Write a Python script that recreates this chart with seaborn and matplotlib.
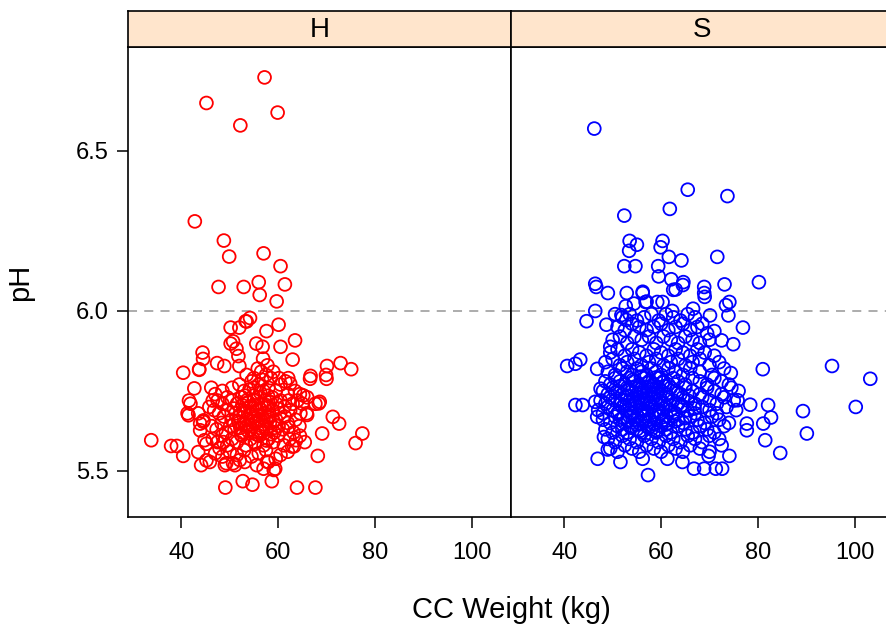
import matplotlib
matplotlib.use("Agg")
import matplotlib.pyplot as plt
import seaborn as sns
import pandas as pd

# ---------------- data ----------------
panels = ["H", "S"]
x_ticks = [40, 60, 80, 100]
y_ticks = [5.5, 6.0, 6.5]
ref_ph = 6.0

h_outer = [
    (57.2, 6.73), (45.2, 6.65), (59.9, 6.62), (52.2, 6.58), (42.8, 6.28), (48.8, 6.22),
    (49.9, 6.17), (57.0, 6.18), (60.5, 6.14), (47.7, 6.075), (52.9, 6.075), (56.0, 6.09),
    (61.4, 6.083), (56.2, 6.05), (59.7, 6.03), (54.2, 5.978), (53.3, 5.968), (52.0, 5.948),
    (50.2, 5.948), (60.1, 5.957), (57.6, 5.937), (50.2, 5.898), (50.7, 5.905), (51.4, 5.882),
    (51.8, 5.859), (52.0, 5.828), (55.5, 5.898), (56.8, 5.888), (60.5, 5.888), (63.5, 5.908),
    (56.9, 5.851), (63.0, 5.848), (44.4, 5.87), (44.5, 5.85), (43.7, 5.818), (40.4, 5.807),
    (47.4, 5.837), (48.9, 5.828), (70.1, 5.828), (72.9, 5.837), (75.1, 5.818), (66.7, 5.797),
    (66.6, 5.788), (69.9, 5.80), (70.0, 5.788), (42.7, 5.758), (46.2, 5.76), (41.6, 5.72),
    (41.9, 5.71), (41.3, 5.68), (41.5, 5.674), (33.8, 5.596), (37.9, 5.578), (39.1, 5.578),
    (40.4, 5.547), (71.3, 5.669), (72.6, 5.648), (69.1, 5.617), (77.4, 5.617), (76.0, 5.587),
    (68.2, 5.547), (68.6, 5.716), (67.7, 5.71), (65.9, 5.68), (65.2, 5.736), (62.1, 5.79),
    (62.5, 5.773), (63.7, 5.596), (63.3, 5.577), (49.1, 5.448), (52.7, 5.468), (54.7, 5.457),
    (58.7, 5.468), (63.9, 5.448), (67.7, 5.448), (44.1, 5.518), (45.2, 5.533), (45.9, 5.528),
    (49.0, 5.518), (51.1, 5.518), (53.1, 5.528), (55.6, 5.518), (57.0, 5.507), (59.4, 5.507),
    (59.5, 5.538), (58.0, 5.528), (43.5, 5.559), (45.2, 5.585), (44.8, 5.596), (43.9, 5.648),
    (43.9, 5.627), (44.6, 5.658), (43.5, 5.68), (44.5, 5.654), (48.7, 5.59), (47.9, 5.571),
    (49.3, 5.524), (50.7, 5.524), (52.1, 5.534), (57.7, 5.529), (59.1, 5.503), (62.9, 5.576),
    (62.2, 5.638), (66.0, 5.675), (68.4, 5.711), (43.7, 5.816), (53.5, 5.967),
]

h_core = [
    (53.5, 5.80), (55.0, 5.79), (56.5, 5.81), (57.5, 5.80), (58.5, 5.79), (55.8, 5.82),
    (57.8, 5.83), (59.0, 5.81), (54.5, 5.78), (61.5, 5.78), (60.2, 5.79),
    (50.5, 5.76), (52.0, 5.77), (53.0, 5.75), (55.0, 5.76), (56.0, 5.77), (57.0, 5.75),
    (58.0, 5.76), (59.5, 5.75), (60.5, 5.77), (62.0, 5.74), (63.5, 5.75), (64.5, 5.74),
    (48.5, 5.75), (47.0, 5.74), (46.5, 5.72),
    (47.5, 5.72), (48.5, 5.71), (49.5, 5.73), (50.5, 5.72), (51.5, 5.71), (52.5, 5.73),
    (53.5, 5.72), (54.2, 5.70), (55.0, 5.72), (55.8, 5.73), (56.5, 5.71), (57.3, 5.72),
    (58.0, 5.70), (58.8, 5.73), (59.6, 5.71), (60.5, 5.72), (61.3, 5.70), (62.2, 5.72),
    (63.0, 5.71), (64.0, 5.72), (65.0, 5.71), (66.0, 5.73), (45.8, 5.70), (46.8, 5.69),
    (47.8, 5.68), (48.8, 5.67), (49.6, 5.69), (50.4, 5.66), (51.2, 5.68), (52.0, 5.67),
    (52.8, 5.69), (53.5, 5.66), (54.2, 5.68), (55.0, 5.67), (55.7, 5.69), (56.4, 5.66),
    (57.2, 5.68), (58.0, 5.67), (58.8, 5.69), (59.6, 5.66), (60.4, 5.68), (61.4, 5.67),
    (62.5, 5.69), (63.6, 5.66), (64.6, 5.68), (53.0, 5.685), (54.8, 5.655), (56.0, 5.675),
    (57.6, 5.655),
    (46.3, 5.64), (47.3, 5.63), (48.3, 5.65), (49.2, 5.62), (50.1, 5.64), (51.0, 5.63),
    (51.9, 5.65), (52.7, 5.62), (53.5, 5.64), (54.3, 5.63), (55.1, 5.65), (55.9, 5.62),
    (56.7, 5.64), (57.5, 5.63), (58.3, 5.65), (59.2, 5.62), (60.1, 5.64), (61.0, 5.63),
    (62.0, 5.65), (63.2, 5.62), (64.4, 5.64), (54.0, 5.645), (56.2, 5.635), (52.2, 5.635),
    (46.5, 5.60), (47.5, 5.59), (48.5, 5.61), (49.5, 5.58), (50.5, 5.60), (51.5, 5.59),
    (52.5, 5.61), (53.4, 5.58), (54.3, 5.60), (55.2, 5.59), (56.1, 5.61), (57.0, 5.58),
    (58.0, 5.60), (59.0, 5.59), (60.0, 5.61), (61.2, 5.58), (62.4, 5.60), (64.5, 5.61),
    (65.5, 5.59),
    (47.0, 5.555), (48.5, 5.545), (50.0, 5.56), (51.5, 5.55), (53.0, 5.565), (54.5, 5.545),
    (56.0, 5.555), (57.5, 5.565), (60.5, 5.55), (62.0, 5.56),
]

h_dense = [
    (52.6, 5.705), (53.9, 5.715), (54.7, 5.695), (55.4, 5.705), (56.2, 5.695), (57.7, 5.705),
    (58.4, 5.715), (51.8, 5.655), (53.1, 5.645), (54.6, 5.675), (55.5, 5.655), (56.9, 5.665),
    (58.3, 5.675), (59.1, 5.655), (52.3, 5.615), (53.8, 5.625), (55.4, 5.615), (56.9, 5.625),
    (58.6, 5.615), (54.9, 5.735), (56.3, 5.745), (57.9, 5.735), (53.2, 5.735), (55.3, 5.585),
    (57.6, 5.595), (54.1, 5.755), (56.7, 5.785), (59.9, 5.695), (50.9, 5.695), (59.3, 5.635),
]

s_outer = [
    (46.2, 6.57), (65.5, 6.379), (73.7, 6.359), (61.8, 6.319), (52.4, 6.298), (53.5, 6.219),
    (55.0, 6.207), (53.4, 6.188), (60.3, 6.219), (59.9, 6.199), (61.6, 6.169), (64.2, 6.158),
    (71.6, 6.169), (52.4, 6.14), (54.7, 6.14), (59.4, 6.14), (59.5, 6.108), (62.1, 6.099),
    (64.6, 6.09), (68.9, 6.075), (73.1, 6.083), (80.2, 6.09), (46.4, 6.085), (46.6, 6.075),
    (49.0, 6.056), (52.9, 6.056), (56.2, 6.056), (63.0, 6.067), (68.9, 6.056), (69.0, 6.044),
    (62.5, 6.066), (64.5, 6.081), (56.2, 6.06), (52.7, 6.015), (54.4, 6.023), (56.8, 6.028),
    (59.2, 6.028), (60.3, 6.028), (57.0, 6.029), (66.6, 6.007), (62.3, 6.0), (74.1, 6.028),
    (73.4, 6.018), (73.9, 5.986), (70.1, 5.986), (46.4, 6.0), (44.6, 5.968), (48.7, 5.957),
    (51.8, 5.987), (52.8, 5.972), (76.9, 5.948), (71.0, 5.937), (72.5, 5.908), (74.9, 5.896),
    (49.5, 5.888), (40.6, 5.828), (42.3, 5.835), (43.3, 5.848), (46.8, 5.819), (42.3, 5.706),
    (43.8, 5.706), (81.0, 5.818), (95.3, 5.828), (103.2, 5.788), (100.2, 5.70), (89.3, 5.687),
    (90.1, 5.617), (84.6, 5.556), (82.1, 5.706), (82.7, 5.667), (81.1, 5.648), (81.5, 5.596),
    (78.4, 5.707), (77.7, 5.648), (77.7, 5.627), (75.8, 5.721), (74.4, 5.806), (57.3, 5.487),
    (66.8, 5.507), (68.9, 5.507), (71.3, 5.507), (72.6, 5.507), (46.9, 5.538), (51.6, 5.528),
    (56.2, 5.538), (61.3, 5.538), (64.4, 5.528), (74.1, 5.547), (69.8, 5.547), (49.0, 5.567),
    (48.2, 5.606), (46.8, 5.669), (46.4, 5.716), (47.5, 5.757),
]

s_upper = [
    (50.5, 5.99), (52.0, 5.98), (53.5, 5.99), (55.0, 5.97), (56.5, 5.98), (58.0, 5.99),
    (59.5, 5.97), (61.0, 5.99), (62.5, 5.98), (64.0, 5.97), (65.5, 5.99), (67.0, 5.98),
    (68.5, 5.96),
    (51.0, 5.95), (52.5, 5.94), (54.0, 5.96), (55.5, 5.95), (57.0, 5.94), (58.5, 5.95),
    (60.0, 5.96), (61.5, 5.94), (63.0, 5.95), (64.5, 5.96), (66.0, 5.94), (67.5, 5.95),
    (69.5, 5.93),
    (50.0, 5.91), (51.5, 5.92), (53.0, 5.90), (54.5, 5.92), (56.0, 5.91), (57.5, 5.92),
    (59.0, 5.90), (60.5, 5.92), (62.0, 5.91), (63.5, 5.90), (65.0, 5.92), (66.5, 5.91),
    (68.0, 5.90), (70.0, 5.91),
    (49.5, 5.87), (51.0, 5.88), (52.5, 5.86), (54.0, 5.88), (55.5, 5.87), (57.0, 5.86),
    (58.5, 5.88), (60.0, 5.87), (61.5, 5.86), (63.0, 5.88), (64.5, 5.87), (66.0, 5.86),
    (67.5, 5.88), (69.0, 5.87), (71.0, 5.86),
    (48.5, 5.84), (50.0, 5.85), (51.5, 5.83), (53.0, 5.84), (54.5, 5.85), (56.0, 5.83),
    (57.5, 5.84), (59.0, 5.85), (60.5, 5.83), (62.0, 5.84), (63.5, 5.85), (65.0, 5.83),
    (66.5, 5.84), (68.0, 5.85), (70.0, 5.83), (72.0, 5.84),
]

s_core = [
    (49.0, 5.81), (50.5, 5.80), (52.0, 5.82), (53.0, 5.81), (54.0, 5.80), (55.0, 5.82),
    (56.0, 5.81), (57.0, 5.80), (58.0, 5.82), (59.0, 5.81), (60.0, 5.80), (61.5, 5.82),
    (63.0, 5.81), (64.5, 5.80), (66.0, 5.82), (68.0, 5.81), (70.5, 5.80), (73.0, 5.82),
    (48.5, 5.78), (49.5, 5.77), (50.5, 5.79), (51.5, 5.78), (52.5, 5.77), (53.5, 5.79),
    (54.5, 5.78), (55.5, 5.77), (56.5, 5.79), (57.5, 5.78), (58.5, 5.77), (59.5, 5.79),
    (60.5, 5.78), (61.5, 5.77), (62.5, 5.79), (63.5, 5.78), (65.0, 5.77), (66.5, 5.79),
    (68.0, 5.78), (69.5, 5.77), (71.0, 5.79), (72.5, 5.78), (74.0, 5.77),
    (48.0, 5.75), (49.0, 5.74), (50.0, 5.76), (51.0, 5.75), (52.0, 5.74), (53.0, 5.76),
    (54.0, 5.75), (55.0, 5.74), (56.0, 5.76), (57.0, 5.75), (58.0, 5.74), (59.0, 5.76),
    (60.0, 5.75), (61.0, 5.74), (62.0, 5.76), (63.0, 5.75), (64.0, 5.74), (65.0, 5.76),
    (66.5, 5.75), (68.0, 5.74), (69.5, 5.76), (71.0, 5.75), (72.5, 5.74), (74.5, 5.76),
    (76.0, 5.75),
    (47.5, 5.72), (48.5, 5.71), (49.5, 5.73), (50.5, 5.72), (51.5, 5.71), (52.5, 5.73),
    (53.5, 5.72), (54.5, 5.71), (55.5, 5.73), (56.5, 5.72), (57.5, 5.71), (58.5, 5.73),
    (59.5, 5.72), (60.5, 5.71), (61.5, 5.73), (62.5, 5.72), (63.5, 5.71), (64.5, 5.73),
    (65.5, 5.72), (67.0, 5.71), (68.5, 5.73), (70.0, 5.72), (71.5, 5.71), (73.0, 5.73),
    (75.0, 5.72),
    (47.0, 5.69), (48.0, 5.68), (49.0, 5.70), (50.0, 5.69), (51.0, 5.68), (52.0, 5.70),
    (53.0, 5.69), (54.0, 5.68), (55.0, 5.70), (56.0, 5.69), (57.0, 5.68), (58.0, 5.70),
    (59.0, 5.69), (60.0, 5.68), (61.0, 5.70), (62.0, 5.69), (63.0, 5.68), (64.0, 5.70),
    (65.5, 5.69), (67.0, 5.68), (68.5, 5.70), (70.0, 5.69), (71.5, 5.68), (73.5, 5.70),
    (75.5, 5.69),
    (48.0, 5.66), (49.5, 5.65), (50.5, 5.67), (51.5, 5.66), (52.5, 5.65), (53.5, 5.67),
    (54.5, 5.66), (55.5, 5.65), (56.5, 5.67), (57.5, 5.66), (58.5, 5.65), (59.5, 5.67),
    (60.5, 5.66), (61.5, 5.65), (62.5, 5.67), (63.5, 5.66), (64.5, 5.65), (66.0, 5.67),
    (67.5, 5.66), (69.0, 5.65), (70.5, 5.67), (72.0, 5.66), (74.0, 5.65),
    (48.5, 5.63), (50.0, 5.62), (51.0, 5.64), (52.0, 5.63), (53.0, 5.62), (54.0, 5.64),
    (55.0, 5.63), (56.0, 5.62), (57.0, 5.64), (58.0, 5.63), (59.0, 5.62), (60.0, 5.64),
    (61.0, 5.63), (62.0, 5.62), (63.5, 5.64), (65.0, 5.63), (66.5, 5.62), (68.0, 5.64),
    (69.5, 5.63), (71.0, 5.62), (73.0, 5.64),
    (49.0, 5.60), (50.5, 5.59), (52.0, 5.61), (53.5, 5.60), (55.0, 5.59), (56.5, 5.61),
    (58.0, 5.60), (59.5, 5.59), (61.0, 5.61), (62.5, 5.60), (64.0, 5.59), (65.5, 5.61),
    (67.0, 5.60), (68.5, 5.59), (70.0, 5.61), (72.0, 5.60),
    (49.5, 5.57), (51.0, 5.56), (52.5, 5.58), (54.0, 5.57), (55.5, 5.56), (57.0, 5.58),
    (58.5, 5.57), (60.0, 5.56), (61.5, 5.58), (63.0, 5.57), (64.5, 5.56), (66.0, 5.58),
    (68.0, 5.57), (70.0, 5.56), (72.5, 5.58),
    (51.5, 5.765), (53.2, 5.755), (54.8, 5.765), (56.3, 5.745), (57.8, 5.765), (59.3, 5.745),
    (60.8, 5.765), (52.4, 5.705), (54.0, 5.695), (55.6, 5.715), (57.2, 5.695), (58.8, 5.715),
    (60.4, 5.695), (62.0, 5.705), (53.2, 5.655), (55.0, 5.645), (56.8, 5.655), (58.6, 5.645),
    (60.2, 5.655),
]

s_dense = [
    (52.9, 5.735), (54.3, 5.725), (55.8, 5.745), (57.1, 5.728), (58.4, 5.742), (59.8, 5.726),
    (61.2, 5.738), (53.6, 5.682), (55.1, 5.672), (56.6, 5.688), (58.1, 5.674), (59.6, 5.686),
    (61.1, 5.672), (62.6, 5.684), (54.2, 5.785), (55.8, 5.795), (57.3, 5.775), (58.9, 5.792),
    (60.4, 5.776), (51.7, 5.722), (50.6, 5.745), (51.3, 5.685), (53.8, 5.635), (55.6, 5.625),
    (57.4, 5.635), (59.2, 5.625), (61.0, 5.645), (62.8, 5.655), (64.2, 5.705), (63.4, 5.745),
    (56.1, 5.711), (57.7, 5.716), (54.9, 5.756), (58.0, 5.755), (53.4, 5.705), (60.0, 5.712),
    (65.8, 5.735), (66.9, 5.695), (64.9, 5.665), (52.2, 5.665), (56.3, 5.657), (59.4, 5.762),
]

# ---------------- build table ----------------
rows = []
for x, y in h_outer + h_core + h_dense:
    rows.append({"panel": "H", "weight": x, "ph": y})
for x, y in s_outer + s_upper + s_core + s_dense:
    rows.append({"panel": "S", "weight": x, "ph": y})
df = pd.DataFrame(rows)

colors = {"H": "#FF0000", "S": "#0000FF"}

sns.set_theme(style="white")
plt.rcParams["font.family"] = ["Liberation Sans", "DejaVu Sans"]
plt.rcParams["text.color"] = "black"

W, H = 886, 630
fig = plt.figure(figsize=(W / 100, H / 100), dpi=100)

left_px = [128, 511]
pw = 383
top_px, bot_px = 47, 517
strip_top = 11

for i, p in enumerate(panels):
    ax = fig.add_axes([left_px[i] / W, 1 - bot_px / H, pw / W, (bot_px - top_px) / H])
    sub = df[df["panel"] == p]
    sns.scatterplot(data=sub, x="weight", y="ph", ax=ax, marker="o",
                    facecolor="none", edgecolor=colors[p], s=85, linewidth=1.3,
                    legend=False)
    ax.axhline(ref_ph, color="#A6A6A6", lw=1.3, ls=(0, (5, 4)), zorder=0)
    ax.set_xlim(29.0, 108.1)
    ax.set_ylim(5.356, 6.825)
    ax.set_xticks(x_ticks)
    ax.set_xticklabels([str(t) for t in x_ticks])
    ax.set_xlabel("")
    ax.set_ylabel("")
    ax.tick_params(axis="x", direction="out", length=8, width=1.1, colors="black",
                   labelsize=17, pad=10, bottom=True, top=False)
    if i == 0:
        ax.set_yticks(y_ticks)
        ax.set_yticklabels([f"{t:.1f}" for t in y_ticks])
        ax.tick_params(axis="y", direction="out", length=8, width=1.1, colors="black",
                       labelsize=17, pad=6, left=True, right=False)
    else:
        ax.set_yticks([])
    for sp in ax.spines.values():
        sp.set_color("black")
        sp.set_linewidth(1.2)
    ax.set_facecolor("white")

    sax = fig.add_axes([left_px[i] / W, 1 - top_px / H, pw / W, (top_px - strip_top) / H])
    sax.set_facecolor("#FFE5CC")
    sax.set_xticks([])
    sax.set_yticks([])
    for sp in sax.spines.values():
        sp.set_color("black")
        sp.set_linewidth(1.2)
    sax.text(0.5, 0.47, p, ha="center", va="center", fontsize=20, color="black",
             transform=sax.transAxes)

fig.text(511 / W, 1 - 610 / H, "CC Weight (kg)", ha="center", va="center", fontsize=21,
         color="black")
fig.text(20 / W, 1 - 282 / H, "pH", ha="center", va="center", rotation=90, fontsize=21,
         color="black")

fig.savefig("out.png", dpi=100, facecolor="white")
